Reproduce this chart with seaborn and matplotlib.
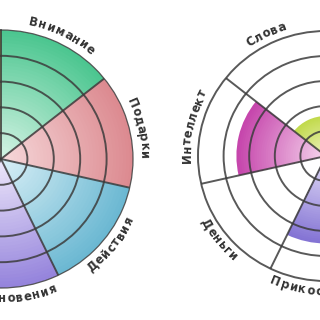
import numpy as np
import matplotlib
matplotlib.use("Agg")
import matplotlib.pyplot as plt
from matplotlib.font_manager import FontProperties
import seaborn as sns

# ---- data ----
categories = ["Внимание", "Подарки", "Действия", "Прикосновения", "Деньги", "Интеллект", "Слова"]
left_values = [5, 5, 5, 5, 5, 5, 5]
right_values = [2.5, 2.0, 3.0, 3.5, 0.0, 3.5, 1.6]
ring_levels = [1, 2, 3, 4, 5]

left_inner = ["#d4f3e4", "#f6d8da", "#d8eff6", "#ede7fa", "#fdf0c8", "#f6d5ee", "#eef5cc"]
left_outer = ["#4cc690", "#dc8a90", "#6bb8d2", "#9584dc", "#f2c14e", "#cc4cb4", "#bcd640"]
right_inner = ["#d4f3e4", "#f6d8da", "#d8eff6", "#e4def8", "#fdf0c8", "#f5d3ec", "#eef4c0"]
right_outer = ["#4cc690", "#dc8a90", "#6bb8d2", "#8474d4", "#f2c14e", "#c646ac", "#c2da4c"]

sns.set_style("white")
plt.rcParams["font.family"] = ["DejaVu Sans"]

W = H = 320
fig = plt.figure(figsize=(3.2, 3.2), dpi=100)
fig.patch.set_facecolor("white")

n = len(categories)
width = 2 * np.pi / n
theta = np.arange(n) * width

line_col = "#3c3c3c"
text_col = "#333333"
fp = FontProperties(family="DejaVu Sans", weight="bold", size=8.4)
tracking = 0.6


def make_axes(cx, cy, rx, ry):
    rect = [(cx - rx) / W, (H - cy - ry) / H, 2 * rx / W, 2 * ry / H]
    ax = fig.add_axes(rect, projection="polar")
    ax.set_aspect("auto")
    ax.set_theta_zero_location("N")
    ax.set_theta_direction(-1)
    ax.set_facecolor("none")
    return ax


def draw_chart(ax, values, inner, outer, spine_lw, nsteps=40):
    for k, (v, ci, co) in enumerate(zip(values, inner, outer)):
        if v <= 0:
            continue
        pal = sns.blend_palette([ci, co], nsteps)
        edges = np.linspace(0, v, nsteps + 1)[1:]
        for i in range(nsteps - 1, -1, -1):
            ax.bar(theta[k], edges[i], width=width, bottom=0, align="edge",
                   color=pal[i], edgecolor="none", linewidth=0, zorder=1)
    ax.set_ylim(0, 5)
    ax.set_yticks(ring_levels[:-1])
    ax.set_yticklabels([])
    ax.set_xticks(theta)
    ax.set_xticklabels([])
    ax.grid(True, color=line_col, linewidth=1.4, alpha=0.85)
    ax.set_axisbelow(False)
    ax.spines["polar"].set_color(line_col)
    ax.spines["polar"].set_linewidth(spine_lw)
    ax.spines["polar"].set_alpha(0.85)
    ax.tick_params(pad=0, length=0)


def curved_label(ax, text, theta_c, r, renderer):
    phi = np.pi / 2 - theta_c
    top = np.sin(phi) > -0.05
    c = ax.transData.transform((theta_c, 0))
    p = ax.transData.transform((theta_c, r))
    rpx = np.hypot(*(p - c))
    widths = [renderer.get_text_width_height_descent(ch, fp, ismath=False)[0] + tracking
              for ch in text]
    total = sum(widths) / rpx
    if top:
        pos, d = theta_c - total / 2, 1
    else:
        pos, d = theta_c + total / 2, -1
    for ch, w in zip(text, widths):
        a = w / rpx
        t = pos + d * a / 2
        pos += d * a
        p0 = ax.transData.transform((t, r))
        # characters lying wholly outside the canvas are not visible in the reference
        if p0[0] < -4 or p0[0] > W + 4 or p0[1] < -4 or p0[1] > H + 4:
            continue
        ang = np.degrees(np.arctan2(p0[1] - c[1], p0[0] - c[0]))
        rot = ang - 90 if top else ang + 90
        ax.text(t, r, ch, rotation=rot, rotation_mode="anchor", ha="center", va="center",
                fontproperties=fp, color=text_col, clip_on=False, zorder=5)


ax_left = make_axes(1, 159, 132, 129)
draw_chart(ax_left, left_values, left_inner, left_outer, spine_lw=0.9)

ax_right = make_axes(326, 156, 128, 125)
draw_chart(ax_right, right_values, right_inner, right_outer, spine_lw=1.4)

fig.canvas.draw()
renderer = fig.canvas.get_renderer()
for ax in (ax_left, ax_right):
    for k, name in enumerate(categories):
        curved_label(ax, name, theta[k] + width / 2, 5.42, renderer)

fig.savefig("out.png", dpi=100, facecolor="white")
